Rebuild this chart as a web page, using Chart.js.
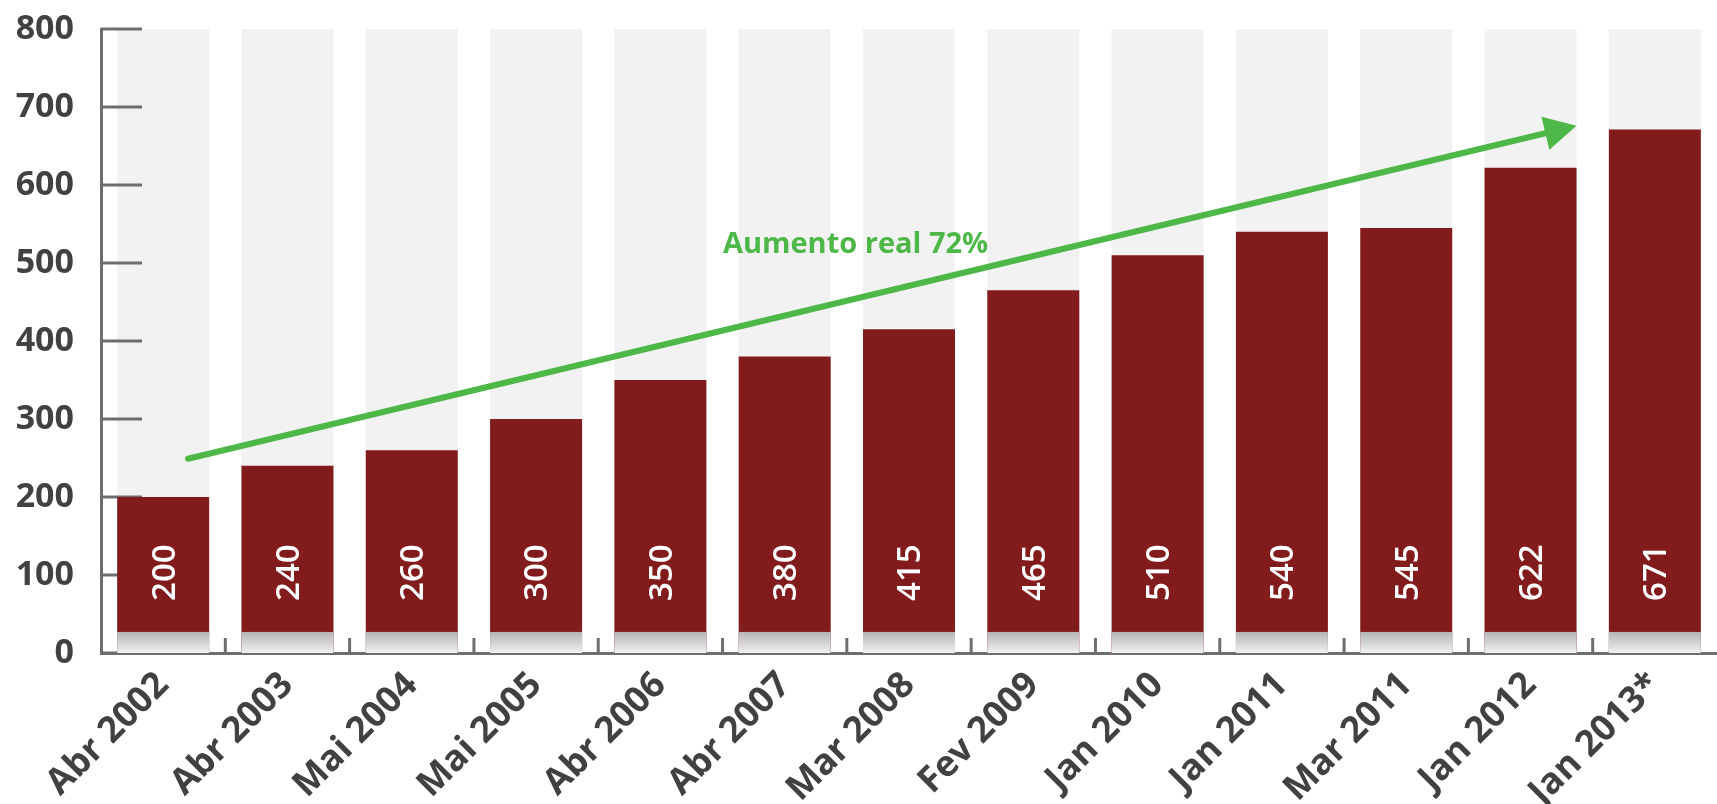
<!DOCTYPE html>
<html>
<head>
<meta charset="utf-8">
<script src="https://cdn.jsdelivr.net/npm/chart.js@4.4.1/dist/chart.umd.min.js"></script>
<style>
  html, body { margin: 0; padding: 0; background: #fff; }
</style>
</head>
<body>
<canvas id="chart" width="1717" height="804"></canvas>
<script>
// Chart data
const categories = ['Abr 2002', 'Abr 2003', 'Mai 2004', 'Mai 2005', 'Abr 2006', 'Abr 2007',
    'Mar 2008', 'Fev 2009', 'Jan 2010', 'Jan 2011', 'Mar 2011', 'Jan 2012', 'Jan 2013*'];
const salaries = [200, 240, 260, 300, 350, 380, 415, 465, 510, 540, 545, 622, 671];
const yTicks = [0, 100, 200, 300, 400, 500, 600, 700, 800];
const arrowLabel = 'Aumento real 72%';

const yMin = yTicks[0];
const yMax = yTicks[yTicks.length - 1];

const axisColor = '#6d6e71';
const textColor = '#414042';
const barRed = '#821b1c';
const green = '#4db848';

// Draws the inward tick marks on both axes (over the grey columns, under the bars)
const innerTicks = {
    id: 'innerTicks',
    afterDatasetDraw(chart, args) {
        if (args.index !== 0) return;
        const ctx = chart.ctx;
        const x = chart.scales.x;
        const y = chart.scales.y;
        const area = chart.chartArea;
        ctx.save();
        ctx.strokeStyle = axisColor;
        ctx.lineWidth = 3;
        ctx.beginPath();
        yTicks.forEach(v => {
            const py = y.getPixelForValue(v);
            ctx.moveTo(area.left, py);
            ctx.lineTo(area.left + 41, py);
        });
        for (let i = 1; i < categories.length; i++) {
            const px = (x.getPixelForValue(i - 1) + x.getPixelForValue(i)) / 2;
            ctx.moveTo(px, area.bottom);
            ctx.lineTo(px, area.bottom - 15);
        }
        ctx.stroke();
        ctx.restore();
    }
};

// Grey shadow at the foot of each bar, value labels, and the trend arrow
const decorations = {
    id: 'decorations',
    afterDatasetsDraw(chart) {
        const ctx = chart.ctx;
        const x = chart.scales.x;
        const y = chart.scales.y;
        const meta = chart.getDatasetMeta(1);

        ctx.save();
        const top = y.getPixelForValue(27);
        const bottom = y.getPixelForValue(0);
        meta.data.forEach(bar => {
            const g = ctx.createLinearGradient(0, top, 0, bottom);
            g.addColorStop(0, '#b5b5b6');
            g.addColorStop(1, '#f1f1f1');
            ctx.fillStyle = g;
            ctx.fillRect(bar.x - bar.width / 2, top, bar.width, bottom - top);
        });

        // value labels, rotated
        ctx.fillStyle = '#ffffff';
        ctx.font = '600 33px "Open Sans"';
        ctx.textAlign = 'center';
        ctx.textBaseline = 'middle';
        meta.data.forEach((bar, i) => {
            ctx.save();
            ctx.translate(bar.x + 2, y.getPixelForValue(103));
            ctx.rotate(-Math.PI / 2);
            ctx.fillText(String(salaries[i]), 0, 0);
            ctx.restore();
        });

        // trend arrow
        const x0 = x.getPixelForValue(0.2), y0 = y.getPixelForValue(249);
        const x1 = x.getPixelForValue(11.37), y1 = y.getPixelForValue(676);
        const ang = Math.atan2(y1 - y0, x1 - x0);
        const headLen = 32, headHalf = 17;
        const bx = x1 - headLen * Math.cos(ang), by = y1 - headLen * Math.sin(ang);
        ctx.strokeStyle = green;
        ctx.lineWidth = 6;
        ctx.lineCap = 'round';
        ctx.beginPath();
        ctx.moveTo(x0, y0);
        ctx.lineTo(bx + 2 * Math.cos(ang), by + 2 * Math.sin(ang));
        ctx.stroke();
        ctx.fillStyle = green;
        ctx.beginPath();
        ctx.moveTo(x1, y1);
        ctx.lineTo(bx - headHalf * Math.sin(ang), by + headHalf * Math.cos(ang));
        ctx.lineTo(bx + headHalf * Math.sin(ang), by - headHalf * Math.cos(ang));
        ctx.closePath();
        ctx.fill();

        ctx.font = 'bold 29px "Open Sans"';
        ctx.textAlign = 'center';
        ctx.textBaseline = 'middle';
        ctx.fillText(arrowLabel, x.getPixelForValue(5.57), y.getPixelForValue(524));
        ctx.restore();
    }
};

const ctx = document.getElementById('chart').getContext('2d');
const chart = new Chart(ctx, {
    type: 'bar',
    data: {
        labels: categories,
        datasets: [{
            // light grey column behind each bar
            data: categories.map(() => [yMin, yMax]),
            backgroundColor: '#f2f2f2',
            grouped: false,
            order: 2,
            categoryPercentage: 1,
            barPercentage: 0.74
        }, {
            data: salaries,
            backgroundColor: barRed,
            grouped: false,
            order: 1,
            categoryPercentage: 1,
            barPercentage: 0.74
        }]
    },
    options: {
        responsive: false,
        animation: false,
        events: [],
        layout: { padding: { top: 29, right: 0, bottom: 0, left: 0 } },
        plugins: {
            legend: { display: false },
            tooltip: { enabled: false }
        },
        scales: {
            x: {
                grid: { display: false, drawTicks: false, tickLength: 0 },
                border: { display: true, color: axisColor, width: 3 },
                ticks: {
                    autoSkip: false,
                    minRotation: 45,
                    maxRotation: 45,
                    padding: 11,
                    color: textColor,
                    font: { family: 'Open Sans', weight: 'bold', size: 36 }
                },
                afterFit(scale) {
                    scale.height = 151;
                    scale.paddingLeft = 0;
                    scale.paddingRight = 0;
                }
            },
            y: {
                min: yMin,
                max: yMax,
                grid: { display: false, drawTicks: false, tickLength: 0 },
                border: { display: true, color: axisColor, width: 3 },
                ticks: {
                    stepSize: 100,
                    padding: 27,
                    color: textColor,
                    font: { family: 'Open Sans', weight: 'bold', size: 34 }
                },
                afterFit(scale) {
                    scale.width = 101;
                    scale.paddingTop = 0;
                    scale.paddingBottom = 0;
                }
            }
        }
    },
    plugins: [innerTicks, decorations]
});
</script>
</body>
</html>
